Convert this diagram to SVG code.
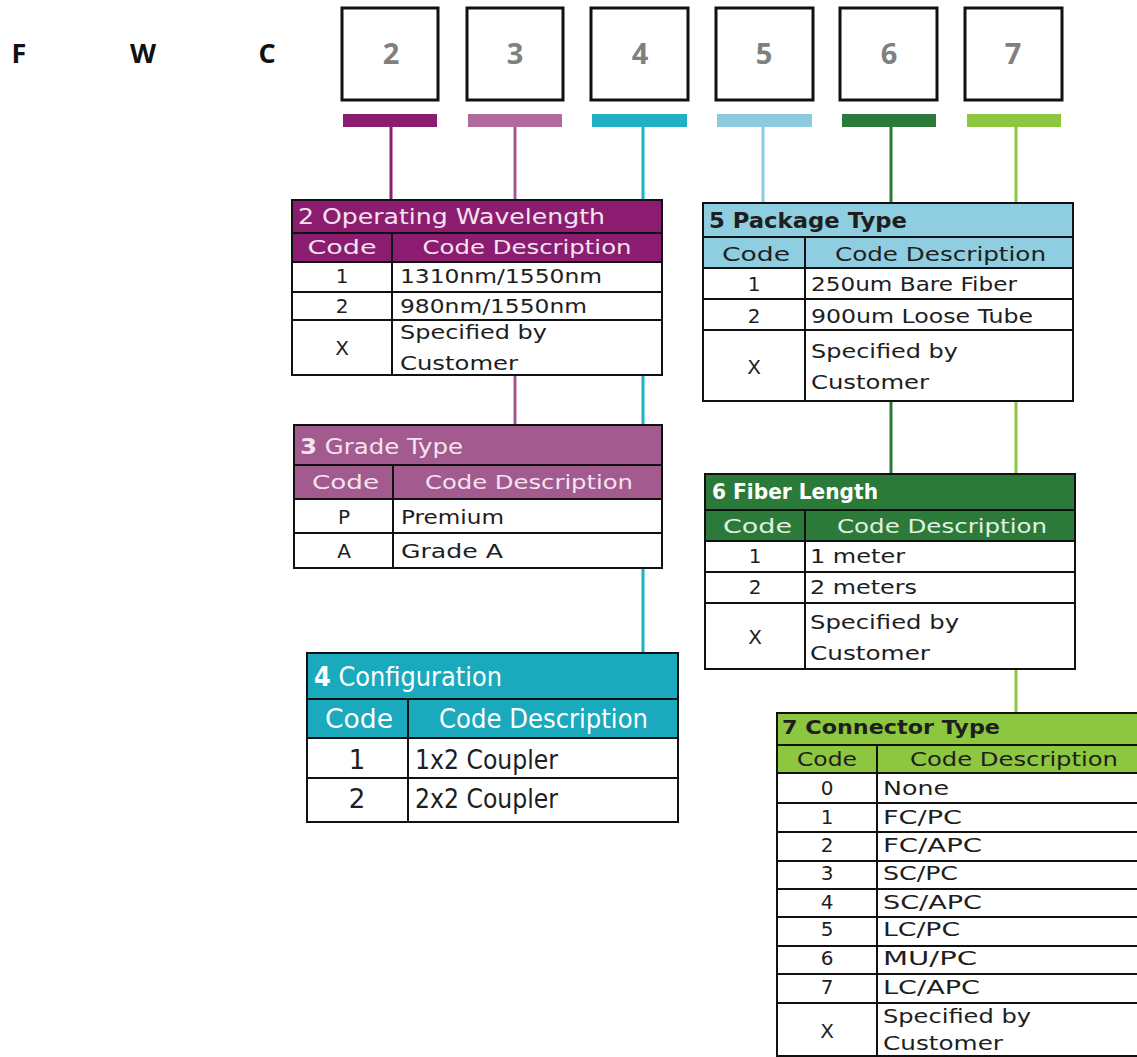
<svg xmlns="http://www.w3.org/2000/svg" width="1137" height="1057" viewBox="0 0 1137 1057">
  <style>
    .t { font-family: "DejaVu Sans", "Liberation Sans", sans-serif; font-size: 20px; fill: #1e1e1e; }
    .ttl { font-size: 22px; }
    .big { font-size: 26px; }
    .b { font-weight: bold; }
    .mid { text-anchor: middle; }
    .lt { fill: #f4e4ef; }
    .wh { fill: #ffffff; }
    .lg { fill: #e4f1e0; }
    .grid { fill: none; stroke: #111111; stroke-width: 2; }
    .slot { fill: #ffffff; stroke: #111111; stroke-width: 3; }
    .digit { font-family: "Open Sans", "DejaVu Sans", sans-serif; font-weight: bold; font-size: 29px; fill: #808080; text-anchor: middle; }
    .lead { font-family: "Open Sans", "DejaVu Sans", sans-serif; font-weight: bold; font-size: 27px; fill: #111111; text-anchor: middle; }
    .wire { fill: none; stroke-width: 3; }
  </style>

  <rect x="0" y="0" width="1137" height="1057" fill="#ffffff"/>

  <!-- fixed prefix letters -->
  <g id="prefix">
    <text class="lead" x="19" y="63">F</text>
    <text class="lead" x="143" y="63">W</text>
    <text class="lead" x="267" y="63">C</text>
  </g>

  <!-- code position slots with colour bars -->
  <g id="slot-2">
    <rect class="slot" x="342" y="8" width="96" height="92"/>
    <text class="digit" x="391" y="64">2</text>
    <rect x="343" y="114" width="94" height="13" fill="#8b1c6f"/>
  </g>
  <g id="slot-3">
    <rect class="slot" x="467" y="8" width="96" height="92"/>
    <text class="digit" x="515" y="64">3</text>
    <rect x="468" y="114" width="94" height="13" fill="#b06a9b"/>
  </g>
  <g id="slot-4">
    <rect class="slot" x="591" y="8" width="97" height="92"/>
    <text class="digit" x="640" y="64">4</text>
    <rect x="592" y="114" width="95" height="13" fill="#1fb0c3"/>
  </g>
  <g id="slot-5">
    <rect class="slot" x="716" y="8" width="97" height="92"/>
    <text class="digit" x="764" y="64">5</text>
    <rect x="717" y="114" width="95" height="13" fill="#8ccbdd"/>
  </g>
  <g id="slot-6">
    <rect class="slot" x="840" y="8" width="97" height="92"/>
    <text class="digit" x="889" y="64">6</text>
    <rect x="842" y="114" width="94" height="13" fill="#2b7a3a"/>
  </g>
  <g id="slot-7">
    <rect class="slot" x="965" y="8" width="97" height="92"/>
    <text class="digit" x="1013" y="64">7</text>
    <rect x="967" y="114" width="94" height="13" fill="#8dc63f"/>
  </g>

  <!-- connectors from bars down to their tables -->
  <g id="connectors">
    <line class="wire" x1="391" y1="127" x2="391" y2="200" stroke="#8b1c6f"/>
    <line class="wire" x1="515" y1="127" x2="515" y2="425" stroke="#a35a8e"/>
    <line class="wire" x1="643" y1="127" x2="643" y2="653" stroke="#1fb0c3"/>
    <line class="wire" x1="763" y1="127" x2="763" y2="203" stroke="#8ccbdd"/>
    <line class="wire" x1="891" y1="127" x2="891" y2="474" stroke="#2b7a3a"/>
    <line class="wire" x1="1016" y1="127" x2="1016" y2="713" stroke="#8dc63f"/>
  </g>

  <!-- 2 Operating Wavelength -->
  <g id="table-wavelength">
    <rect x="292" y="200" width="370" height="62" fill="#8b1c6f"/>
    <rect x="292" y="262" width="370" height="113" fill="#ffffff"/>
    <rect class="grid" x="292" y="200" width="370" height="175"/>
    <path class="grid" d="M292 233H662M292 262H662M292 292H662M292 320H662M392 233V375"/>
    <text class="t ttl lt" x="298" y="224" textLength="307" lengthAdjust="spacingAndGlyphs">2 Operating Wavelength</text>
    <text class="t lt" x="307.5" y="254" textLength="69" lengthAdjust="spacingAndGlyphs">Code</text>
    <text class="t lt" x="422.5" y="254" textLength="209" lengthAdjust="spacingAndGlyphs">Code Description</text>
    <text class="t mid" x="342" y="283">1</text>
    <text class="t" x="400" y="283" textLength="202" lengthAdjust="spacingAndGlyphs">1310nm/1550nm</text>
    <text class="t mid" x="342" y="313">2</text>
    <text class="t" x="400" y="313" textLength="187" lengthAdjust="spacingAndGlyphs">980nm/1550nm</text>
    <text class="t mid" x="342" y="355">X</text>
    <text class="t" x="400" y="339" textLength="147" lengthAdjust="spacingAndGlyphs">Specified by</text>
    <text class="t" x="400" y="370" textLength="118" lengthAdjust="spacingAndGlyphs">Customer</text>
  </g>

  <!-- 3 Grade Type -->
  <g id="table-grade">
    <rect x="294" y="425" width="368" height="74" fill="#a35a8e"/>
    <rect x="294" y="499" width="368" height="69" fill="#ffffff"/>
    <rect class="grid" x="294" y="425" width="368" height="143"/>
    <path class="grid" d="M294 465H662M294 499H662M294 533H662M393 465V568"/>
    <text class="t ttl lt" x="300" y="454" textLength="163" lengthAdjust="spacingAndGlyphs"><tspan class="b">3</tspan> Grade Type</text>
    <text class="t lt" x="312" y="489" textLength="67" lengthAdjust="spacingAndGlyphs">Code</text>
    <text class="t lt" x="425" y="489" textLength="208" lengthAdjust="spacingAndGlyphs">Code Description</text>
    <text class="t mid" x="344" y="524">P</text>
    <text class="t" x="401" y="524" textLength="103" lengthAdjust="spacingAndGlyphs">Premium</text>
    <text class="t mid" x="344" y="558">A</text>
    <text class="t" x="401" y="558" textLength="102" lengthAdjust="spacingAndGlyphs">Grade A</text>
  </g>

  <!-- 4 Configuration -->
  <g id="table-configuration">
    <rect x="307" y="653" width="371" height="85" fill="#1ba9be"/>
    <rect x="307" y="738" width="371" height="84" fill="#ffffff"/>
    <rect class="grid" x="307" y="653" width="371" height="169"/>
    <path class="grid" d="M307 699H678M307 738H678M307 778H678M408 699V822"/>
    <text class="t big wh" x="314" y="686" textLength="188" lengthAdjust="spacingAndGlyphs"><tspan class="b">4</tspan> Configuration</text>
    <text class="t big wh" x="325" y="728" textLength="68" lengthAdjust="spacingAndGlyphs">Code</text>
    <text class="t big wh" x="439" y="728" textLength="209" lengthAdjust="spacingAndGlyphs">Code Description</text>
    <text class="t big mid" x="357" y="769">1</text>
    <text class="t big" x="415" y="769" textLength="143" lengthAdjust="spacingAndGlyphs">1x2 Coupler</text>
    <text class="t big mid" x="357" y="808">2</text>
    <text class="t big" x="415" y="808" textLength="143" lengthAdjust="spacingAndGlyphs">2x2 Coupler</text>
  </g>

  <!-- 5 Package Type -->
  <g id="table-package">
    <rect x="703" y="203" width="370" height="65" fill="#8fcde0"/>
    <rect x="703" y="268" width="370" height="133" fill="#ffffff"/>
    <rect class="grid" x="703" y="203" width="370" height="198"/>
    <path class="grid" d="M703 237H1073M703 268H1073M703 299H1073M703 330H1073M805 237V401"/>
    <text class="t ttl b" x="709" y="228" textLength="198" lengthAdjust="spacingAndGlyphs">5 Package Type</text>
    <text class="t" x="722" y="261" textLength="68" lengthAdjust="spacingAndGlyphs">Code</text>
    <text class="t" x="835" y="261" textLength="211" lengthAdjust="spacingAndGlyphs">Code Description</text>
    <text class="t mid" x="754" y="291">1</text>
    <text class="t" x="811" y="291" textLength="206" lengthAdjust="spacingAndGlyphs">250um Bare Fiber</text>
    <text class="t mid" x="754" y="323">2</text>
    <text class="t" x="811" y="323" textLength="222" lengthAdjust="spacingAndGlyphs">900um Loose Tube</text>
    <text class="t mid" x="754" y="374">X</text>
    <text class="t" x="811" y="358" textLength="147" lengthAdjust="spacingAndGlyphs">Specified by</text>
    <text class="t" x="811" y="389" textLength="118" lengthAdjust="spacingAndGlyphs">Customer</text>
  </g>

  <!-- 6 Fiber Length -->
  <g id="table-length">
    <rect x="705" y="474" width="370" height="67" fill="#2b7a3a"/>
    <rect x="705" y="541" width="370" height="128" fill="#ffffff"/>
    <rect class="grid" x="705" y="474" width="370" height="195"/>
    <path class="grid" d="M705 510H1075M705 541H1075M705 572H1075M705 603H1075M805 510V669"/>
    <text class="t ttl b wh" x="712" y="499" textLength="166" lengthAdjust="spacingAndGlyphs">6 Fiber Length</text>
    <text class="t lg" x="723" y="533" textLength="69" lengthAdjust="spacingAndGlyphs">Code</text>
    <text class="t lg" x="837" y="533" textLength="210" lengthAdjust="spacingAndGlyphs">Code Description</text>
    <text class="t mid" x="755" y="563">1</text>
    <text class="t" x="810" y="563" textLength="95" lengthAdjust="spacingAndGlyphs">1 meter</text>
    <text class="t mid" x="755" y="594">2</text>
    <text class="t" x="810" y="594" textLength="107" lengthAdjust="spacingAndGlyphs">2 meters</text>
    <text class="t mid" x="755" y="644">X</text>
    <text class="t" x="810" y="629" textLength="149" lengthAdjust="spacingAndGlyphs">Specified by</text>
    <text class="t" x="810" y="660" textLength="120" lengthAdjust="spacingAndGlyphs">Customer</text>
  </g>

  <!-- 7 Connector Type -->
  <g id="table-connector">
    <rect x="777" y="713" width="373" height="60" fill="#8dc63f"/>
    <rect x="777" y="773" width="373" height="283" fill="#ffffff"/>
    <rect class="grid" x="777" y="713" width="373" height="343"/>
    <path class="grid" d="M777 745H1150M777 773H1150M777 803H1150M777 832H1150M777 861H1150M777 889H1150M777 917H1150M777 946H1150M777 974H1150M777 1003H1150M877 745V1056"/>
    <text class="t b" x="782" y="734" textLength="218" lengthAdjust="spacingAndGlyphs">7 Connector Type</text>
    <text class="t" x="797" y="766" textLength="60" lengthAdjust="spacingAndGlyphs">Code</text>
    <text class="t" x="910" y="766" textLength="208" lengthAdjust="spacingAndGlyphs">Code Description</text>
    <text class="t mid" x="827" y="795">0</text>
    <text class="t" x="883" y="795" textLength="66" lengthAdjust="spacingAndGlyphs">None</text>
    <text class="t mid" x="827" y="824">1</text>
    <text class="t" x="883" y="824" textLength="79" lengthAdjust="spacingAndGlyphs">FC/PC</text>
    <text class="t mid" x="827" y="852">2</text>
    <text class="t" x="883" y="852" textLength="99" lengthAdjust="spacingAndGlyphs">FC/APC</text>
    <text class="t mid" x="827" y="880">3</text>
    <text class="t" x="883" y="880" textLength="75" lengthAdjust="spacingAndGlyphs">SC/PC</text>
    <text class="t mid" x="827" y="909">4</text>
    <text class="t" x="883" y="909" textLength="99" lengthAdjust="spacingAndGlyphs">SC/APC</text>
    <text class="t mid" x="827" y="936">5</text>
    <text class="t" x="883" y="936" textLength="77" lengthAdjust="spacingAndGlyphs">LC/PC</text>
    <text class="t mid" x="827" y="965">6</text>
    <text class="t" x="883" y="965" textLength="94" lengthAdjust="spacingAndGlyphs">MU/PC</text>
    <text class="t mid" x="827" y="994">7</text>
    <text class="t" x="883" y="994" textLength="97" lengthAdjust="spacingAndGlyphs">LC/APC</text>
    <text class="t mid" x="827" y="1038">X</text>
    <text class="t" x="883" y="1023" textLength="148" lengthAdjust="spacingAndGlyphs">Specified by</text>
    <text class="t" x="883" y="1050" textLength="120" lengthAdjust="spacingAndGlyphs">Customer</text>
  </g>
</svg>
